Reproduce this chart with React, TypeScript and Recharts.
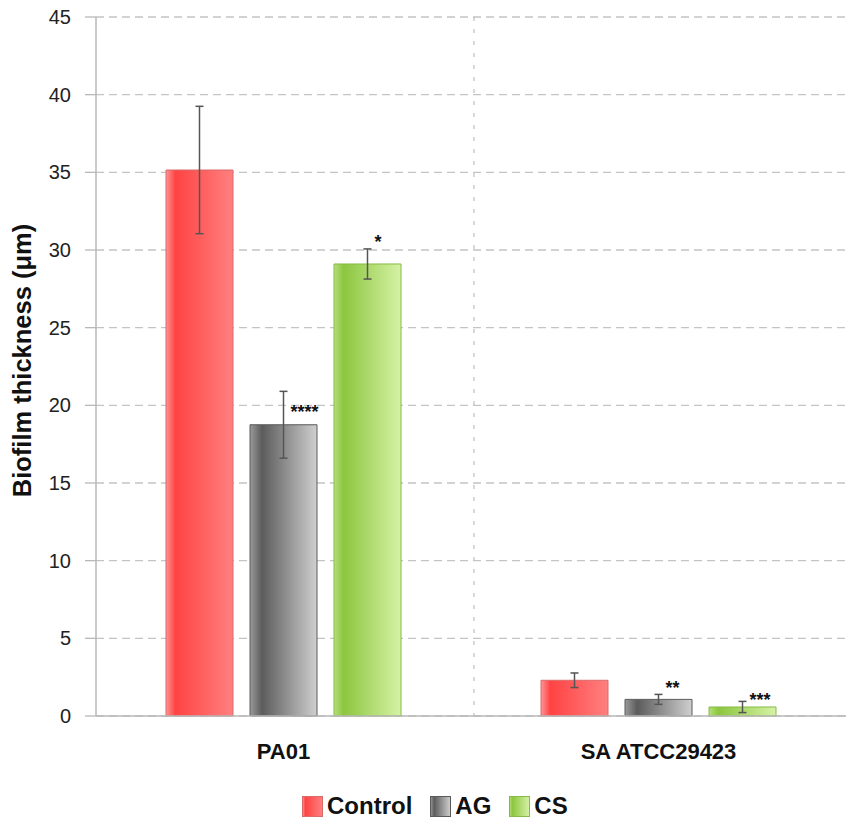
import React from 'react';
import { BarChart, Bar, XAxis, YAxis, CartesianGrid, ErrorBar, LabelList, Legend } from 'recharts';

const categories = ['PA01', 'SA ATCC29423'];
const controlValues = [35.15, 2.3];
const controlErrors = [4.1, 0.47];
const agValues = [18.75, 1.07];
const agErrors = [2.15, 0.32];
const csValues = [29.1, 0.58];
const csErrors = [0.97, 0.36];
const agSig = ['****', '**'];
const agSigPos = [19.2, 1.42];
const csSig = ['*', '***'];
const csSigPos = [30.13, 0.64];
const yTicks = [0, 5, 10, 15, 20, 25, 30, 35, 40, 45];

const data = categories.map((c, i) => ({
  name: c,
  control: controlValues[i],
  controlErr: controlErrors[i],
  ag: agValues[i],
  agErr: agErrors[i],
  cs: csValues[i],
  csErr: csErrors[i],
  agSig: agSig[i],
  csSig: csSig[i],
}));

const FONT = '"Liberation Sans", Arial, sans-serif';

const makeSigLabel = (values: number[], positions: number[]) => (props: any) => {
  const { x, y, width, height, value, index } = props;
  if (!value) return null;
  const v = values[index];
  const base = Number(y) + Number(height);
  const k = Number(height) / v;
  const ty = base - positions[index] * k;
  const tx = Number(x) + Number(width) / 2 + 7;
  return (
    <text x={tx} y={ty} textAnchor="start" fontFamily={FONT} fontWeight="bold" fontSize={18} fill="#111">
      {value}
    </text>
  );
};

const gradients = [
  { id: 'gControl', stops: [['0%', '#ff9494'], ['14%', '#ff4343'], ['100%', '#ff8080']] },
  { id: 'gAG', stops: [['0%', '#9a9a9a'], ['18%', '#5c5c5c'], ['100%', '#cfcfcf']] },
  { id: 'gCS', stops: [['0%', '#b4e07c'], ['14%', '#8cc63f'], ['100%', '#d6f2a6']] },
];

const Defs = ({ suffix = '' }: { suffix?: string }) => (
  <defs>
    {gradients.map((g) => (
      <linearGradient key={g.id} id={g.id + suffix} x1="0" y1="0" x2="1" y2="0">
        {g.stops.map(([o, c]) => (
          <stop key={o} offset={o} stopColor={c} />
        ))}
      </linearGradient>
    ))}
  </defs>
);

const legendItems = [
  { label: 'Control', grad: 'gControl', stroke: '#d86a6a' },
  { label: 'AG', grad: 'gAG', stroke: '#5a5a5a' },
  { label: 'CS', grad: 'gCS', stroke: '#86bb45' },
];

const LegendContent = () => (
  <div style={{ display: 'flex', alignItems: 'center', fontFamily: FONT, fontWeight: 'bold', fontSize: 24, color: '#111' }}>
    {legendItems.map((it, i) => (
      <div key={it.label} style={{ display: 'flex', alignItems: 'center', marginRight: i < 2 ? 18 : 0 }}>
        <svg width={21} height={21} style={{ marginRight: 4 }}>
          <Defs suffix="L" />
          <rect x={0.5} y={0.5} width={20} height={20} fill={`url(#${it.grad}L)`} stroke={it.stroke} strokeWidth={1} />
        </svg>
        <span>{it.label}</span>
      </div>
    ))}
  </div>
);

const YLabel = (props: any) => {
  const vb = props.viewBox || { x: 0, y: 17, width: 96, height: 699 };
  const cx = vb.x + 22;
  const cy = vb.y + vb.height / 2 - 6;
  return (
    <text
      x={cx}
      y={cy}
      transform={`rotate(-90, ${cx}, ${cy})`}
      textAnchor="middle"
      dominantBaseline="central"
      fontFamily={FONT}
      fontWeight="bold"
      fontSize={25.5}
      fill="#111"
    >
      Biofilm thickness (μm)
    </text>
  );
};

export default function App() {
  return (
    <div style={{ position: 'absolute', left: 0, top: 0, width: 846, height: 821, overflow: 'hidden', background: '#fff' }}>
      <BarChart
        width={846}
        height={821}
        data={data}
        margin={{ top: 17, right: 0, left: 0, bottom: 65 }}
        barCategoryGap={70}
        barGap={17}
      >
        <Defs />
        <CartesianGrid vertical={false} stroke="#c4c4c4" strokeDasharray="8 5" strokeWidth={1.3} />
        <CartesianGrid
          horizontal={false}
          stroke="#c4c4c4"
          strokeDasharray="4 8"
          strokeWidth={1.3}
          verticalCoordinatesGenerator={({ offset }: any) => [offset.left + offset.width / 2 + 3]}
        />
        <XAxis
          dataKey="name"
          height={40}
          tickLine={false}
          tickSize={0}
          tickMargin={27}
          axisLine={{ stroke: '#b8b8b8', strokeWidth: 1.5 }}
          tick={{ fontFamily: FONT, fontWeight: 'bold', fontSize: 22, fill: '#111' }}
        />
        <YAxis
          width={96}
          domain={[0, 45]}
          ticks={yTicks}
          interval={0}
          tickSize={11}
          tickMargin={14}
          tickLine={{ stroke: '#b8b8b8', strokeWidth: 1.3 }}
          axisLine={{ stroke: '#b8b8b8', strokeWidth: 1.5 }}
          tick={{ fontFamily: FONT, fontSize: 20, fill: '#222' }}
          label={{ content: YLabel }}
        />
        <Bar dataKey="control" fill="url(#gControl)" stroke="#d86a6a" strokeWidth={1} isAnimationActive={false}>
          <ErrorBar dataKey="controlErr" width={4} stroke="#555" strokeWidth={1.5} />
        </Bar>
        <Bar dataKey="ag" fill="url(#gAG)" stroke="#5a5a5a" strokeWidth={1} isAnimationActive={false}>
          <ErrorBar dataKey="agErr" width={4} stroke="#555" strokeWidth={1.5} />
          <LabelList dataKey="agSig" content={makeSigLabel(agValues, agSigPos)} />
        </Bar>
        <Bar dataKey="cs" fill="url(#gCS)" stroke="#86bb45" strokeWidth={1} isAnimationActive={false}>
          <ErrorBar dataKey="csErr" width={4} stroke="#555" strokeWidth={1.5} />
          <LabelList dataKey="csSig" content={makeSigLabel(csValues, csSigPos)} />
        </Bar>
        <Legend
          verticalAlign="middle"
          align="center"
          wrapperStyle={{ top: 792, left: 302, width: 'auto', height: 'auto' }}
          content={LegendContent}
        />
      </BarChart>
    </div>
  );
}
